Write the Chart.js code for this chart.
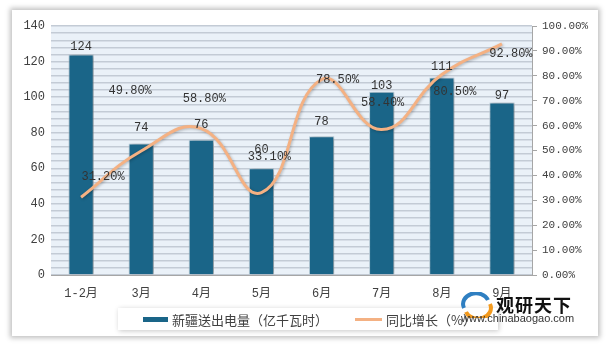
<!DOCTYPE html>
<html>
<head>
<meta charset="utf-8">
<script src="https://cdn.jsdelivr.net/npm/chart.js@4"></script>
<style>
  html, body { margin: 0; padding: 0; background: #fff; }
  #wrap { position: relative; width: 611px; height: 348px; overflow: hidden; }
  #card { position: absolute; left: 12px; top: 10px; width: 586px; height: 326px; background: #fff;
          box-shadow: 0 0 5px 2px rgba(0,0,0,0.25); }
  #chart { position: absolute; left: 0; top: 0; }
  #legend { position: absolute; left: 118px; top: 308px; width: 380px; height: 22px; background: #fff;
            box-shadow: 1px 1px 5px rgba(0,0,0,0.22); font: 13px "Noto Sans CJK SC", sans-serif; color: #404040; }
  #legend .sw { position: absolute; top: 9px; height: 5px; }
  #legend .tx { position: absolute; top: 2px; white-space: nowrap; }
  #mark { position: absolute; left: 460px; top: 290px; width: 120px; height: 40px; }
  #mark .big { position: absolute; left: 36px; top: 1px; font: bold 18px "Noto Sans CJK SC", sans-serif; color: #111; letter-spacing: 1px; }
  #mark .url { position: absolute; left: 1px; top: 22px; font: 11px "Liberation Sans", Arial, sans-serif; color: #333; }
</style>
</head>
<body>
<div id="wrap">
  <div id="card"></div>
  <canvas id="chart" width="611" height="348"></canvas>
  <div id="legend">
    <div class="sw" style="left:25px;width:25px;background:#1a6588;"></div>
    <div class="tx" style="left:54px;">新疆送出电量（亿千瓦时）</div>
    <div class="sw" style="left:237px;width:27px;height:3px;top:10px;background:#f4b183;"></div>
    <div class="tx" style="left:268px;">同比增长（%）</div>
  </div>
  <div id="mark">
    <svg width="34" height="26" style="position:absolute;left:0;top:2px;">
      <path d="M4 16 A12 10 0 0 1 28 8" stroke="#2f7fc1" stroke-width="4" fill="none"/>
      <path d="M30 12 A12 10 0 0 1 6 20" stroke="#f39a1e" stroke-width="4" fill="none"/>
    </svg>
    <div class="big">观研天下</div>
    <div class="url">www.chinabaogao.com</div>
  </div>
</div>
<script>
// data
const months = ['1-2月', '3月', '4月', '5月', '6月', '7月', '8月', '9月'];
const power = [124, 74, 76, 60, 78, 103, 111, 97];          // 亿千瓦时
const growth = [31.2, 49.8, 58.8, 33.1, 78.5, 58.4, 80.5, 92.8]; // %

// label nudges (pixels), like the hand-placed Excel labels
const barLabelDy = [-8, -16, -15, -18, -14, -6, -11, -7];
const lineLabelOffset = [[22, -20], [-11, -60], [3, -30], [8, -36], [16, 0], [1, -27], [13, 17], [9, 10]];

const FONT = '"Liberation Mono", "Noto Sans CJK SC", monospace';
const TEXT = '#404040';

// light-blue plot background
const plotBg = {
  id: 'plotBg',
  beforeDraw(chart) {
    const {ctx, chartArea: a} = chart;
    ctx.save();
    ctx.fillStyle = '#eaf1f8';
    ctx.fillRect(a.left, a.top, a.right - a.left, a.bottom - a.top);
    ctx.restore();
  }
};

// soft shadow under bars and line
const shadows = {
  id: 'shadows',
  beforeDatasetDraw(chart, args) {
    const ctx = chart.ctx;
    ctx.save();
    if (args.index === 0) {
      ctx.shadowColor = 'rgba(0,0,0,0.35)';
      ctx.shadowBlur = 4;
      ctx.shadowOffsetX = 2;
      ctx.shadowOffsetY = 1;
    } else {
      ctx.shadowColor = 'rgba(0,0,0,0.25)';
      ctx.shadowBlur = 3;
      ctx.shadowOffsetX = 1;
      ctx.shadowOffsetY = 1;
    }
  },
  afterDatasetDraw(chart) {
    chart.ctx.restore();
  }
};

// value labels
const valueLabels = {
  id: 'valueLabels',
  afterDatasetsDraw(chart) {
    const ctx = chart.ctx;
    ctx.save();
    ctx.font = '12px ' + FONT;
    ctx.fillStyle = '#333';
    ctx.textAlign = 'center';
    ctx.textBaseline = 'middle';
    chart.getDatasetMeta(0).data.forEach((bar, i) => {
      ctx.fillText(String(power[i]), bar.x, bar.y + barLabelDy[i]);
    });
    chart.getDatasetMeta(1).data.forEach((pt, i) => {
      const [dx, dy] = lineLabelOffset[i];
      ctx.fillText(growth[i].toFixed(2) + '%', pt.x + dx, pt.y + dy);
    });
    ctx.restore();
  }
};

new Chart(document.getElementById('chart').getContext('2d'), {
  data: {
    labels: months,
    datasets: [
      {
        type: 'bar',
        label: '新疆送出电量（亿千瓦时）',
        data: power,
        yAxisID: 'y',
        backgroundColor: '#1a6588',
        borderColor: 'rgba(190,210,222,0.9)',
        borderWidth: 1,
        barPercentage: 0.42,
        categoryPercentage: 1,
        order: 2
      },
      {
        type: 'line',
        label: '同比增长（%）',
        data: growth,
        yAxisID: 'y1',
        borderColor: '#f4b183',
        borderWidth: 3,
        pointRadius: 0,
        tension: 0.45,
        fill: false,
        order: 1
      }
    ]
  },
  options: {
    responsive: false,
    animation: false,
    layout: { padding: { left: 12, right: 13, top: 26, bottom: 43 } },
    plugins: { legend: { display: false }, tooltip: { enabled: false } },
    scales: {
      x: {
        offset: true,
        grid: { display: false },
        border: { color: '#a6a6a6' },
        ticks: { color: TEXT, font: { family: FONT, size: 12 }, padding: 4, maxRotation: 0 },
        afterFit(s) { s.height = 30; }
      },
      y: {
        position: 'left',
        min: 0,
        max: 140,
        ticks: {
          stepSize: 4,
          autoSkip: false,
          color: TEXT,
          font: { family: FONT, size: 12 },
          padding: 6,
          callback: v => (v % 20 === 0 ? v : '')
        },
        grid: { color: '#c3cbd5', lineWidth: 1.4, drawTicks: false },
        border: { display: false },
        afterFit(s) { s.width = 39; }
      },
      y1: {
        position: 'right',
        min: 0,
        max: 100,
        ticks: {
          stepSize: 10,
          autoSkip: false,
          color: TEXT,
          font: { family: FONT, size: 11 },
          padding: 5,
          callback: v => v.toFixed(2) + '%'
        },
        grid: { drawOnChartArea: false, drawTicks: true, tickLength: 5, color: '#a6a6a6' },
        border: { color: '#a6a6a6' },
        afterFit(s) { s.width = 66; }
      }
    }
  },
  plugins: [plotBg, shadows, valueLabels]
});
</script>
</body>
</html>
